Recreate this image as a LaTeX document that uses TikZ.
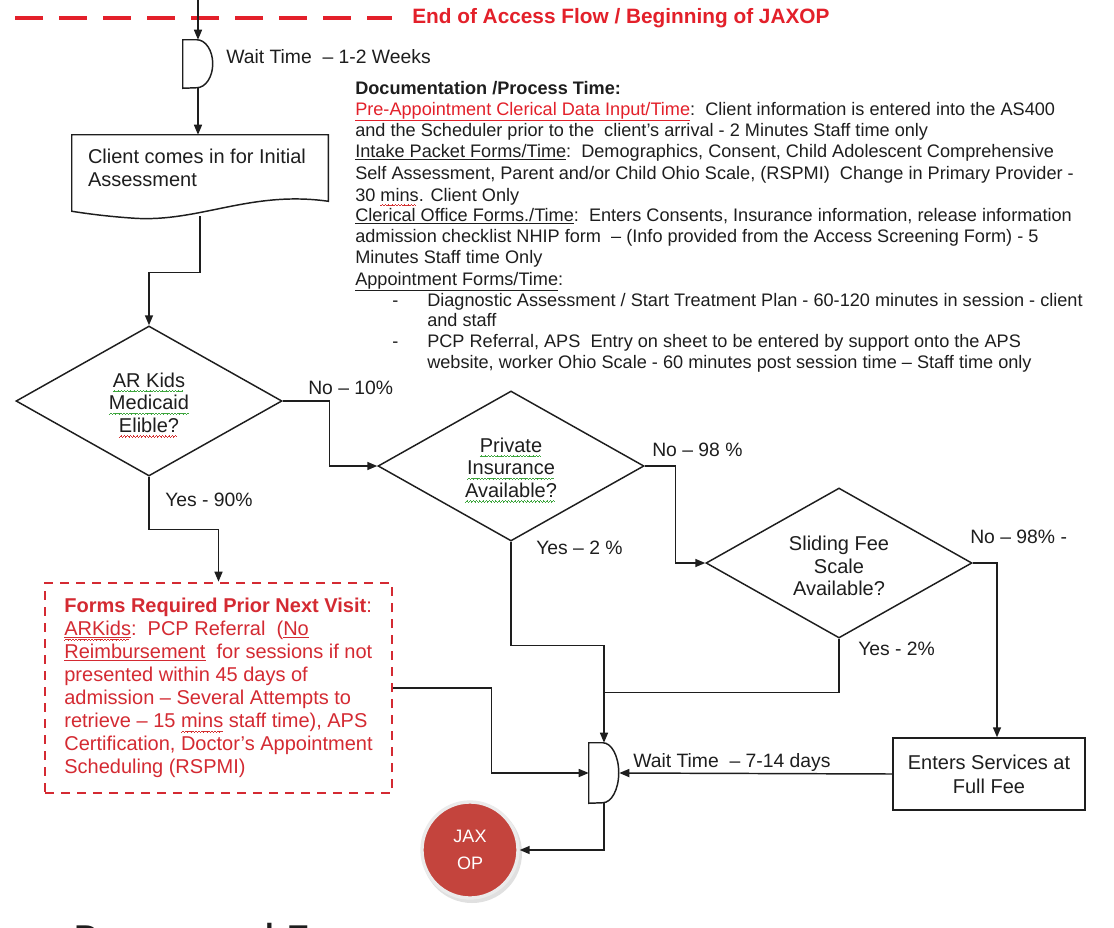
\documentclass[tikz,border=0pt]{standalone}
\usepackage{fontspec}
\setmainfont{Liberation Sans}
\newfontfamily\headfont{Carlito}
\usetikzlibrary{shapes.geometric,arrows.meta,calc}
\definecolor{ink}{HTML}{1E1E1E}
\definecolor{alert}{HTML}{E3202A}
\definecolor{formred}{HTML}{D42A32}
\definecolor{jaxred}{HTML}{C4443D}
\definecolor{wavegreen}{HTML}{3DA53D}
\definecolor{wavered}{HTML}{D43030}
% underline and wavy spell-check style underlines (built from small rules)
\newcommand\ul[1]{\underline{#1}}
\newcommand\waveunit{\hbox{\rule[-3.6pt]{0.6pt}{0.45pt}\rule[-3.1pt]{0.6pt}{0.45pt}\rule[-2.6pt]{0.6pt}{0.45pt}\rule[-3.1pt]{0.6pt}{0.45pt}}}
\newcommand\wavy[2]{\setbox0\hbox{#2}\leavevmode
  \rlap{\textcolor{#1}{\hbox to \wd0{\leaders\waveunit\hfill}}}\box0}
\newcommand\gsq[1]{\wavy{wavegreen}{#1}}
\newcommand\rsq[1]{\wavy{wavered}{#1}}
\begin{document}
\begin{tikzpicture}[x=0.75pt,y=-0.75pt,
  line/.style={draw=ink,line width=1.1pt},
  arr/.style={line,-{Triangle[length=7.5pt,width=6pt]}},
  lbl/.style={font=\fontsize{14.5pt}{16pt}\selectfont,text=ink,inner sep=0pt,anchor=west},
  waitlbl/.style={font=\fontsize{14.5pt}{16pt}\selectfont,text=ink,inner sep=0pt,anchor=west},
  doc/.style={font=\fontsize{13.6pt}{15.8pt}\selectfont,text=ink,inner sep=0pt,anchor=base west},
  decision/.style={diamond,draw=ink,line width=1.1pt,minimum width=199.5pt,minimum height=112.5pt,inner sep=0pt},
  dtext/.style={align=center,inner sep=0pt,font=\fontsize{15pt}{17pt}\selectfont,text=ink},
  delaybox/.style={minimum width=22.5pt,minimum height=36pt,inner sep=0pt},
  process/.style={draw=ink,line width=1.1pt,align=center,font=\fontsize{15pt}{18pt}\selectfont,text=ink},
]
\useasboundingbox (0,0) rectangle (1114,928);
\fill[white] (0,0) rectangle (1114,928);

% ---- boundary between access flow and JAXOP
\draw[alert,line width=3pt,dash pattern=on 21pt off 12pt] (15,18) -- (392,18);
\node[font=\bfseries\fontsize{15.6pt}{18pt}\selectfont,text=alert,anchor=west,inner sep=0pt] (title) at (412,18)
  {End of Access Flow / Beginning of JAXOP};

% ---- first wait
\coordinate (entry) at (198,0);
\node[delaybox] (w1) at (198,64) {};
\draw[line] (w1.south west) -- (w1.north west) -- ++(10.5pt,0)
  arc[start angle=90,end angle=-90,x radius=12pt,y radius=18pt] -- cycle;
\node[waitlbl] (w1lbl) at (226,57) {Wait Time\ \ – 1-2 Weeks};
\draw[arr] (entry) -- (w1.north);

% ---- client arrives (document shape)
\node[minimum width=192pt,minimum height=49.5pt,inner sep=0pt,align=left,
      font=\fontsize{15pt}{17.5pt}\selectfont,text=ink] (client) at (200,168)
  {\makebox[168pt][l]{Client comes in for Initial}\\Assessment};
\draw[line] (client.north west) -- (client.north east) -- (client.south east)
  .. controls ($(client.south east)+(-78,-11)$) and ($(client.south west)+(128,21)$) .. ($(client.south west)+(63,17)$)
  .. controls ($(client.south west)+(33,15)$) and ($(client.south west)+(13,12)$) .. ($(client.south west)+(0,10)$)
  -- cycle;
\coordinate (clientout) at ($(client.south)+(0,15)$);
\draw[arr] (w1.south) -- (w1.south |- client.north);

% ---- decisions
\node[decision] (d1) at (149,401) {};
\node[decision] (d2) at (511,466) {};
\node[decision] (d3) at (839,563) {};
\node[dtext] (d1t) at ($(d1)+(0,4)$) {\gsq{AR Kids}\\\gsq{Medicaid}\\\rsq{Elible?}};
\node[dtext] (d2t) at ($(d2)+(0,4)$) {\gsq{Private}\\\gsq{Insurance}\\\gsq{Available?}};
\node[dtext] (d3t) at ($(d3)+(0,3)$) {Sliding Fee\\Scale\\Available?};

\draw[arr] (clientout) -- ++(0,56) -| (d1.north);
\draw[arr] (d1.east) -- ++(47,0) |- (d2.west);
\draw[arr] (d2.east) -- ++(31,0) |- (d3.west);

\node[lbl] (no1) at (308,388) {No – 10\%};
\node[lbl] (yes1) at (165,500) {Yes - 90\%};
\node[lbl] (no2) at (652,450) {No – 98 \%};
\node[lbl] (yes2) at (536,548) {Yes – 2 \%};
\node[lbl] (no3) at (970,537) {No – 98\% -};
\node[lbl] (yes3) at (858,649) {Yes - 2\%};

% ---- forms required before next visit
\node[draw=formred,line width=2pt,dash pattern=on 7pt off 5pt,
      minimum width=260.25pt,minimum height=157.5pt,inner sep=0pt,align=left,
      font=\fontsize{15pt}{17.25pt}\selectfont,text=formred] (forms) at (218.5,688)
  {\textbf{Forms Required Prior Next Visit}:\\
   \rsq{\ul{ARKids}}:\ \ PCP Referral\ \ (\ul{No}\\
   \ul{Reimbursement}\ \ for sessions if not\\
   presented within\ 45 days of\\
   admission – Several\ Attempts to\\
   retrieve – 15\ \rsq{mins}\ staff time), APS\\
   Certification, Doctor’s Appointment\\
   Scheduling (RSPMI)};
\draw[arr] (d1.south) -- ++(0,53) -| (forms.north);

% ---- full fee and second wait
\node[process,minimum width=144pt,minimum height=54pt] (enters) at (989,774) {Enters Services at\\Full Fee};
\node[delaybox,minimum height=45pt] (w2) at (604,773) {};
\draw[line,fill=white] (w2.south west) -- (w2.north west) -- ++(10.5pt,0)
  arc[start angle=90,end angle=-90,x radius=12pt,y radius=22.5pt] -- cycle;
\node[waitlbl] (w2lbl) at (633,762) {Wait Time\ \ – 7-14\ days};

\draw[arr] (d3.east) -| ($(enters.north)+(8,0)$);
\coordinate (join) at ($(w2.north)+(0,-50)$);
\draw[line] (d3.south) |- (join);
\draw[arr] (d2.south) -- ++(0,104) -| (w2.north);
\draw[arr] (forms.east) -- ++(98,0) |- (w2.west);
\draw[arr] (enters.west) -- (w2.east);

% ---- exit to JAXOP
\fill[black!12] (472,853) circle[radius=37.5pt];
\node[circle,fill=jaxred,draw=white!92!black,line width=2.5pt,minimum size=72pt,inner sep=0pt,
      text=white,align=center,font=\fontsize{13.5pt}{20pt}\selectfont] (jax) at (470,850) {JAX\\OP};
\draw[arr] (w2.south) |- (jax.east);

% ---- next slide heading, cut at the lower edge
\begin{scope}
\clip (0,0) rectangle (1114,928);
\node[font=\headfont\fontsize{37pt}{40pt}\selectfont,text=ink,anchor=base west,inner sep=0pt] (foot) at (73,957) {Processed F};
\end{scope}

% ---- documentation notes
\node[doc] (t1) at (355,94) {\textbf{Documentation /Process Time:}};
\node[doc] (t2) at (355,115) {\textcolor{alert}{\ul{Pre-Appointment Clerical Data Input/Time}}:\ \ Client information is entered into the AS400};
\node[doc] (t3) at (355,136) {and the Scheduler prior to the\ \ client’s arrival - 2 Minutes Staff time only};
\node[doc] (t4) at (355,157) {\ul{Intake Packet Forms/Time}:\ \ Demographics, Consent, Child Adolescent Comprehensive};
\node[doc] (t5) at (355,179) {Self Assessment, Parent and/or Child Ohio Scale, (RSPMI)\ \ Change in Primary Provider -};
\node[doc] (t6) at (355,201) {30 \rsq{mins}. Client Only};
\node[doc] (t7) at (355,221) {\ul{Clerical Office Forms./Time}:\ \ Enters Consents, Insurance information, release information};
\node[doc] (t8) at (355,242) {admission checklist NHIP form\ \ – (Info provided from the Access Screening Form) - 5};
\node[doc] (t9) at (355,263) {Minutes Staff time Only};
\node[doc] (t10) at (355,285) {\ul{Appointment Forms/Time}:};
\node[doc] (b1) at (392,306) {-};
\node[doc] (t11) at (427,306) {Diagnostic Assessment / Start Treatment Plan - 60-120 minutes in session - client};
\node[doc] (t12) at (427,326) {and staff};
\node[doc] (b2) at (392,347) {-};
\node[doc] (t13) at (427,347) {PCP Referral, APS\ \ Entry on sheet to be entered by support onto the APS};
\node[doc] (t14) at (427,368) {website, worker Ohio Scale - 60 minutes post session time – Staff time only};
\end{tikzpicture}
\end{document}
